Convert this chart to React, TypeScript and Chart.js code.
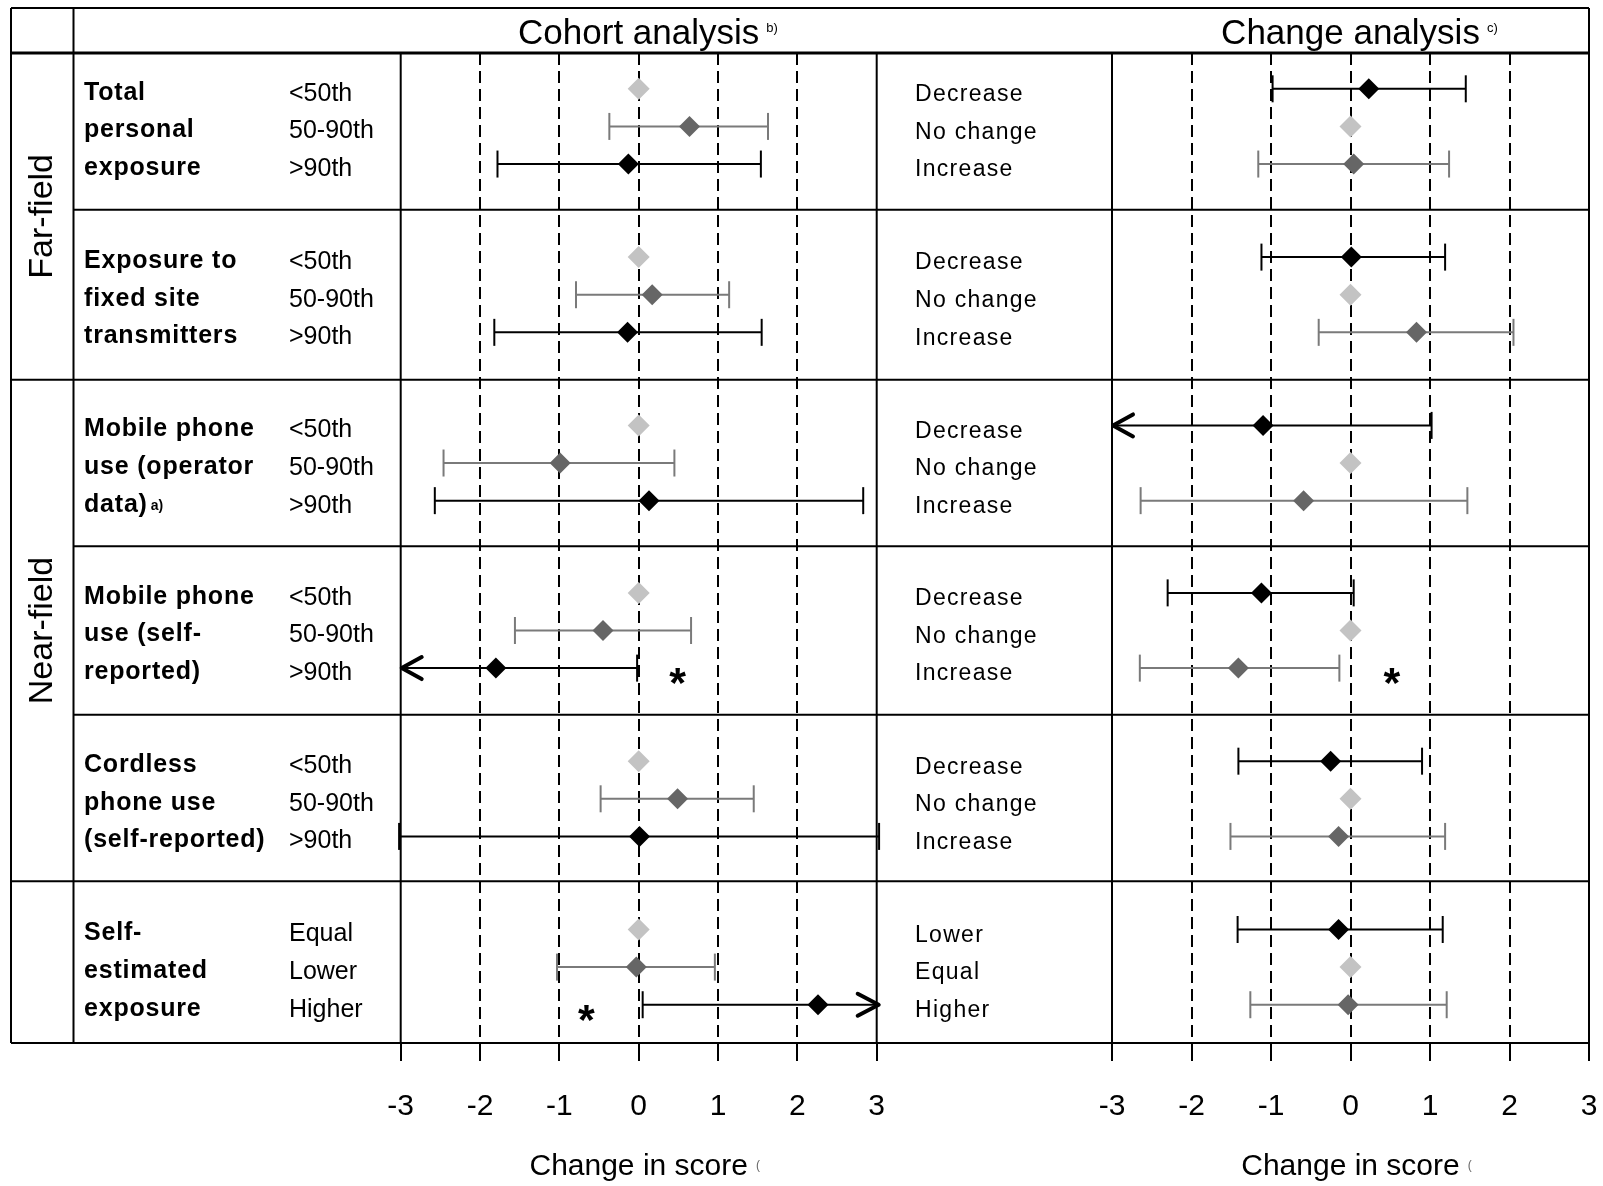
import React, { useEffect, useRef } from "react";
import { Chart, registerables } from "chart.js";

Chart.register(...registerables);

// ---------------- data ----------------
const GROUP_NAMES = ["Far-field", "Near-field", ""];
const GROUP_ROW_COUNTS = [2, 3, 1];

const ROW_LABELS = [
  ["Total", "personal", "exposure"],
  ["Exposure to", "fixed site", "transmitters"],
  ["Mobile phone", "use (operator", "data)"],
  ["Mobile phone", "use (self-", "reported)"],
  ["Cordless", "phone use", "(self-reported)"],
  ["Self-", "estimated", "exposure"],
];
const ROW_NOTES = ["", "", "a)", "", "", ""];

const COHORT_CATEGORIES = [
  ["<50th", "50-90th", ">90th"],
  ["<50th", "50-90th", ">90th"],
  ["<50th", "50-90th", ">90th"],
  ["<50th", "50-90th", ">90th"],
  ["<50th", "50-90th", ">90th"],
  ["Equal", "Lower", "Higher"],
];
const CHANGE_CATEGORIES = [
  ["Decrease", "No change", "Increase"],
  ["Decrease", "No change", "Increase"],
  ["Decrease", "No change", "Increase"],
  ["Decrease", "No change", "Increase"],
  ["Decrease", "No change", "Increase"],
  ["Lower", "Equal", "Higher"],
];

// marker kind per category slot: reference / middle (grey) / high (black)
const COHORT_KIND = ["ref", "mid", "high"];
const CHANGE_KIND = ["high", "ref", "mid"];

// Cohort analysis estimates and 95% CI (null = reference category)
const COHORT_EST = [
  [0, 0.64, -0.13],
  [0, 0.17, -0.14],
  [0, -0.99, 0.13],
  [0, -0.45, -1.8],
  [0, 0.49, 0.01],
  [0, -0.03, 2.26],
];
const COHORT_LO = [
  [null, -0.37, -1.78],
  [null, -0.79, -1.82],
  [null, -2.46, -2.57],
  [null, -1.56, -3.6],
  [null, -0.48, -3.02],
  [null, -1.03, 0.05],
];
const COHORT_HI = [
  [null, 1.63, 1.54],
  [null, 1.14, 1.55],
  [null, 0.45, 2.83],
  [null, 0.66, -0.02],
  [null, 1.45, 3.03],
  [null, 0.96, 3.6],
];

// Change analysis estimates and 95% CI
const CHANGE_EST = [
  [0.23, 0, 0.04],
  [0.01, 0, 0.83],
  [-1.1, 0, -0.59],
  [-1.12, 0, -1.41],
  [-0.25, 0, -0.15],
  [-0.15, 0, -0.03],
];
const CHANGE_LO = [
  [-0.98, null, -1.16],
  [-1.12, null, -0.4],
  [-3.6, null, -2.64],
  [-2.3, null, -2.65],
  [-1.41, null, -1.51],
  [-1.42, null, -1.26],
];
const CHANGE_HI = [
  [1.45, null, 1.24],
  [1.19, null, 2.05],
  [1.02, null, 1.47],
  [0.04, null, -0.14],
  [0.9, null, 1.19],
  [1.16, null, 1.21],
];

// significance markers: row, slot, x position on the axis
const COHORT_STARS = [
  { row: 3, slot: 2, x: 0.49 },
  { row: 5, slot: 2, x: -0.66 },
];
const CHANGE_STARS = [{ row: 3, slot: 2, x: 0.52 }];

const X_TICKS = [-3, -2, -1, 0, 1, 2, 3];
const ROW_SPAN = [0.95, 1.03, 1.01, 1.02, 1.01, 0.98];
const ROW_SHIFT = [-0.03, 0, 0, 0, 0.005, 0.03];
const SLOT_STEP = 0.228;

// ---------------- layout / style ----------------
const W = 1603;
const H = 1186;
const FONT = '"Liberation Sans", Arial, Helvetica, sans-serif';
const TABLE_LEFT = 11;
const TABLE_TOP = 8;
const TABLE_RIGHT = 1589;
const GROUP_COL_RIGHT = 73.5;
const HEADER_BOTTOM = 53;
const AXIS_BLOCK = 143;
const COHORT_LEFT = 400.7;
const COHORT_RIGHT = 876.7;
const CHANGE_LEFT = 1112;
const CHANGE_RIGHT = TABLE_RIGHT;
const ROW_LABEL_X = 84;
const CAT_LABEL_X = 289;
const CHANGE_LABEL_X = 915;

const COLORS: Record<string, { point: string; line: string }> = {
  ref: { point: "#c3c3c3", line: "#c3c3c3" },
  mid: { point: "#666666", line: "#7a7a7a" },
  high: { point: "#000000", line: "#000000" },
};

function rowEdges(): number[] {
  const e = [0];
  ROW_SPAN.forEach((v) => e.push(e[e.length - 1] + v));
  return e;
}
function slotY(r: number, s: number): number {
  const e = rowEdges();
  return e[r] + ROW_SPAN[r] / 2 + ROW_SHIFT[r] + (s - 1) * SLOT_STEP;
}

function hLine(ctx: any, x1: number, x2: number, y: number, w = 2) {
  ctx.lineWidth = w;
  ctx.beginPath();
  ctx.moveTo(x1, y);
  ctx.lineTo(x2, y);
  ctx.stroke();
}
function vLine(ctx: any, x: number, y1: number, y2: number, w = 2) {
  ctx.lineWidth = w;
  ctx.beginPath();
  ctx.moveTo(x, y1);
  ctx.lineTo(x, y2);
  ctx.stroke();
}
function text(
  ctx: any,
  s: string,
  x: number,
  y: number,
  font: string,
  align: string = "left",
  spacing = "0px",
  baseline = "middle"
) {
  ctx.font = font;
  ctx.textAlign = align;
  ctx.textBaseline = baseline;
  ctx.fillStyle = "#000";
  try {
    ctx.letterSpacing = spacing;
  } catch (e) {}
  ctx.fillText(s, x, y);
  try {
    ctx.letterSpacing = "0px";
  } catch (e) {}
}

function drawIntervals(chart: any, est: number[][], lo: any[][], hi: any[][], kinds: string[]) {
  const { ctx } = chart;
  const xs = chart.scales.x;
  const ys = chart.scales.y;
  const xmin = xs.min;
  const xmax = xs.max;
  est.forEach((row, r) =>
    row.forEach((_v, s) => {
      const l = lo[r][s];
      const h = hi[r][s];
      if (l == null || h == null) return;
      const color = COLORS[kinds[s]].line;
      const py = ys.getPixelForValue(slotY(r, s));
      const truncL = l < xmin - 0.05;
      const truncH = h > xmax + 0.05;
      const x1 = xs.getPixelForValue(truncL ? xmin : l);
      const x2 = xs.getPixelForValue(truncH ? xmax : h);
      ctx.strokeStyle = color;
      ctx.lineCap = "butt";
      hLine(ctx, x1, x2, py, 2);
      if (!truncL) vLine(ctx, x1, py - 13.5, py + 13.5, 2);
      if (!truncH) vLine(ctx, x2, py - 13.5, py + 13.5, 2);
      ctx.lineCap = "round";
      ctx.lineJoin = "round";
      ctx.lineWidth = 4;
      if (truncL) {
        ctx.beginPath();
        ctx.moveTo(x1 + 21, py - 11);
        ctx.lineTo(x1 + 1, py);
        ctx.lineTo(x1 + 21, py + 11);
        ctx.stroke();
      }
      if (truncH) {
        ctx.beginPath();
        ctx.moveTo(x2 - 19, py - 11);
        ctx.lineTo(x2 + 2, py);
        ctx.lineTo(x2 - 19, py + 11);
        ctx.stroke();
      }
      ctx.lineCap = "butt";
    })
  );
}

function drawStars(chart: any, stars: { row: number; slot: number; x: number }[]) {
  const { ctx } = chart;
  const xs = chart.scales.x;
  const ys = chart.scales.y;
  stars.forEach((st) => {
    const px = xs.getPixelForValue(st.x);
    const py = ys.getPixelForValue(slotY(st.row, st.slot)) + 6;
    text(ctx, "*", px, py + 23, "bold 43px " + FONT, "center", "0px", "alphabetic");
  });
}

function drawTitleMark(chart: any) {
  const { ctx } = chart;
  const xs = chart.scales.x;
  ctx.font = "30px " + FONT;
  const w = ctx.measureText("Change in score").width;
  const cx = (xs.left + xs.right) / 2;
  ctx.fillStyle = "#666";
  ctx.font = "12px " + FONT;
  ctx.textAlign = "left";
  ctx.textBaseline = "middle";
  ctx.fillText("(", cx + w / 2 + 8, 1166);
}

const cohortPlugin = {
  id: "cohortTable",
  beforeDatasetsDraw(chart: any) {
    const { ctx, chartArea } = chart;
    const xs = chart.scales.x;
    const ys = chart.scales.y;
    const edges = rowEdges();
    const top = chartArea.top;
    const bottom = chartArea.bottom;
    ctx.save();
    ctx.strokeStyle = "#000";
    // outer frame
    hLine(ctx, TABLE_LEFT, TABLE_RIGHT, TABLE_TOP, 2);
    hLine(ctx, TABLE_LEFT, TABLE_RIGHT, top, 3);
    hLine(ctx, TABLE_LEFT, TABLE_RIGHT, bottom, 2);
    vLine(ctx, TABLE_LEFT, TABLE_TOP, bottom, 2);
    vLine(ctx, GROUP_COL_RIGHT, TABLE_TOP, bottom, 2);
    vLine(ctx, TABLE_RIGHT, TABLE_TOP, bottom, 2);
    vLine(ctx, chartArea.left, top, bottom, 2);
    vLine(ctx, chartArea.right, top, bottom, 2);
    // row lines
    const groupStarts: number[] = [];
    let acc = 0;
    GROUP_ROW_COUNTS.forEach((c) => {
      groupStarts.push(acc);
      acc += c;
    });
    for (let i = 1; i < edges.length - 1; i++) {
      const y = ys.getPixelForValue(edges[i]);
      const isGroup = groupStarts.includes(i);
      hLine(ctx, isGroup ? TABLE_LEFT : GROUP_COL_RIGHT, TABLE_RIGHT, y, 2);
    }
    // header
    const hy = (TABLE_TOP + top) / 2 + 4;
    const x0 = xs.getPixelForValue(0);
    text(ctx, "Cohort analysis", x0, hy, "35px " + FONT, "center");
    ctx.font = "35px " + FONT;
    const hw = ctx.measureText("Cohort analysis").width;
    text(ctx, "b)", x0 + hw / 2 + 7, hy - 6, "13px " + FONT, "left");
    // group labels
    GROUP_NAMES.forEach((g, gi) => {
      if (!g) return;
      const y1 = ys.getPixelForValue(edges[groupStarts[gi]]);
      const y2 = ys.getPixelForValue(edges[groupStarts[gi] + GROUP_ROW_COUNTS[gi]]);
      ctx.save();
      ctx.translate((TABLE_LEFT + GROUP_COL_RIGHT) / 2, (y1 + y2) / 2);
      ctx.rotate(-Math.PI / 2);
      text(ctx, g, 0, 0, "34px " + FONT, "center");
      ctx.restore();
    });
    // row labels & categories
    ROW_LABELS.forEach((lines, r) => {
      lines.forEach((ln, s) => {
        const y = ys.getPixelForValue(slotY(r, s)) + 4;
        text(ctx, ln, ROW_LABEL_X, y, "bold 25px " + FONT, "left", "0.8px");
        if (s === lines.length - 1 && ROW_NOTES[r]) {
          ctx.font = "bold 25px " + FONT;
          try {
            ctx.letterSpacing = "0.8px";
          } catch (e) {}
          const w = ctx.measureText(ln).width;
          try {
            ctx.letterSpacing = "0px";
          } catch (e) {}
          text(ctx, ROW_NOTES[r], ROW_LABEL_X + w + 3, y + 1, "bold 14px " + FONT, "left");
        }
      });
      COHORT_CATEGORIES[r].forEach((c, s) => {
        const y = ys.getPixelForValue(slotY(r, s));
        text(ctx, c, CAT_LABEL_X, y + 5, "25px " + FONT, "left");
      });
    });
    drawIntervals(chart, COHORT_EST, COHORT_LO, COHORT_HI, COHORT_KIND);
    ctx.restore();
  },
  afterDatasetsDraw(chart: any) {
    const { ctx } = chart;
    ctx.save();
    drawStars(chart, COHORT_STARS);
    drawTitleMark(chart);
    ctx.restore();
  },
};

const changePlugin = {
  id: "changeTable",
  beforeDatasetsDraw(chart: any) {
    const { ctx, chartArea } = chart;
    const xs = chart.scales.x;
    const ys = chart.scales.y;
    const top = chartArea.top;
    const bottom = chartArea.bottom;
    ctx.save();
    ctx.strokeStyle = "#000";
    vLine(ctx, chartArea.left, top, bottom, 2);
    vLine(ctx, chartArea.right, TABLE_TOP, bottom, 2);
    const hy = (TABLE_TOP + top) / 2 + 4;
    const x0 = xs.getPixelForValue(0);
    text(ctx, "Change analysis", x0, hy, "35px " + FONT, "center");
    ctx.font = "35px " + FONT;
    const hw = ctx.measureText("Change analysis").width;
    text(ctx, "c)", x0 + hw / 2 + 7, hy - 6, "13px " + FONT, "left");
    CHANGE_CATEGORIES.forEach((cats, r) => {
      cats.forEach((c, s) => {
        const y = ys.getPixelForValue(slotY(r, s));
        text(ctx, c, CHANGE_LABEL_X, y + 6, "23px " + FONT, "left", "1.3px");
      });
    });
    drawIntervals(chart, CHANGE_EST, CHANGE_LO, CHANGE_HI, CHANGE_KIND);
    ctx.restore();
  },
  afterDatasetsDraw(chart: any) {
    const { ctx } = chart;
    ctx.save();
    drawStars(chart, CHANGE_STARS);
    drawTitleMark(chart);
    ctx.restore();
  },
};

function makeConfig(
  est: number[][],
  kinds: string[],
  left: number,
  right: number,
  plugin: any
): any {
  const pts: Record<string, { x: number; y: number }[]> = { ref: [], mid: [], high: [] };
  est.forEach((row, r) => row.forEach((v, s) => pts[kinds[s]].push({ x: v, y: slotY(r, s) })));
  const ds = (k: string, radius: number) => ({
    label: k,
    data: pts[k],
    pointStyle: "rectRot",
    pointRadius: radius,
    pointHoverRadius: radius,
    backgroundColor: COLORS[k].point,
    borderColor: COLORS[k].point,
    borderWidth: 0,
    showLine: false,
    clip: false,
  });
  const totalRows = ROW_SPAN.reduce((a, b) => a + b, 0);
  return {
    type: "scatter",
    data: { datasets: [ds("ref", 11), ds("mid", 10.5), ds("high", 10.5)] },
    options: {
      animation: false,
      responsive: false,
      devicePixelRatio: 1,
      events: [],
      layout: { padding: { left, right: W - right, top: HEADER_BOTTOM, bottom: 0 } },
      plugins: {
        legend: { display: false },
        tooltip: { enabled: false },
        title: { display: false },
      },
      scales: {
        x: {
          type: "linear",
          min: X_TICKS[0],
          max: X_TICKS[X_TICKS.length - 1],
          afterBuildTicks: (s: any) => {
            s.ticks = X_TICKS.map((v) => ({ value: v }));
          },
          afterFit: (s: any) => {
            s.height = AXIS_BLOCK;
          },
          ticks: {
            color: "#000",
            font: { family: FONT, size: 30, lineHeight: 2.9 },
            padding: 2,
            maxRotation: 0,
            autoSkip: false,
          },
          grid: {
            color: (c: any) =>
              c.tick && Math.abs(c.tick.value) === 3 ? "rgba(0,0,0,0)" : "#000",
            lineWidth: 2,
            drawTicks: true,
            tickLength: 18,
            tickColor: "#000",
            tickWidth: 2,
          },
          border: { display: false, dash: [12, 6] },
          title: {
            display: true,
            text: "Change in score",
            color: "#000",
            font: { family: FONT, size: 30 },
            padding: { top: 0, bottom: 1 },
          },
        },
        y: { type: "linear", display: false, min: 0, max: totalRows, reverse: true },
      },
    },
    plugins: [plugin],
  };
}

export default function App() {
  const refA = useRef<HTMLCanvasElement | null>(null);
  const refB = useRef<HTMLCanvasElement | null>(null);
  useEffect(() => {
    const a = new Chart(
      refA.current as HTMLCanvasElement,
      makeConfig(COHORT_EST, COHORT_KIND, COHORT_LEFT, COHORT_RIGHT, cohortPlugin)
    );
    const b = new Chart(
      refB.current as HTMLCanvasElement,
      makeConfig(CHANGE_EST, CHANGE_KIND, CHANGE_LEFT, CHANGE_RIGHT, changePlugin)
    );
    return () => {
      a.destroy();
      b.destroy();
    };
  }, []);
  return (
    <div
      style={{
        position: "absolute",
        left: 0,
        top: 0,
        width: W,
        height: H,
        background: "#fff",
        overflow: "hidden",
      }}
    >
      <canvas
        ref={refA}
        width={W}
        height={H}
        style={{ position: "absolute", left: 0, top: 0, width: W, height: H }}
      />
      <canvas
        ref={refB}
        width={W}
        height={H}
        style={{ position: "absolute", left: 0, top: 0, width: W, height: H }}
      />
    </div>
  );
}
